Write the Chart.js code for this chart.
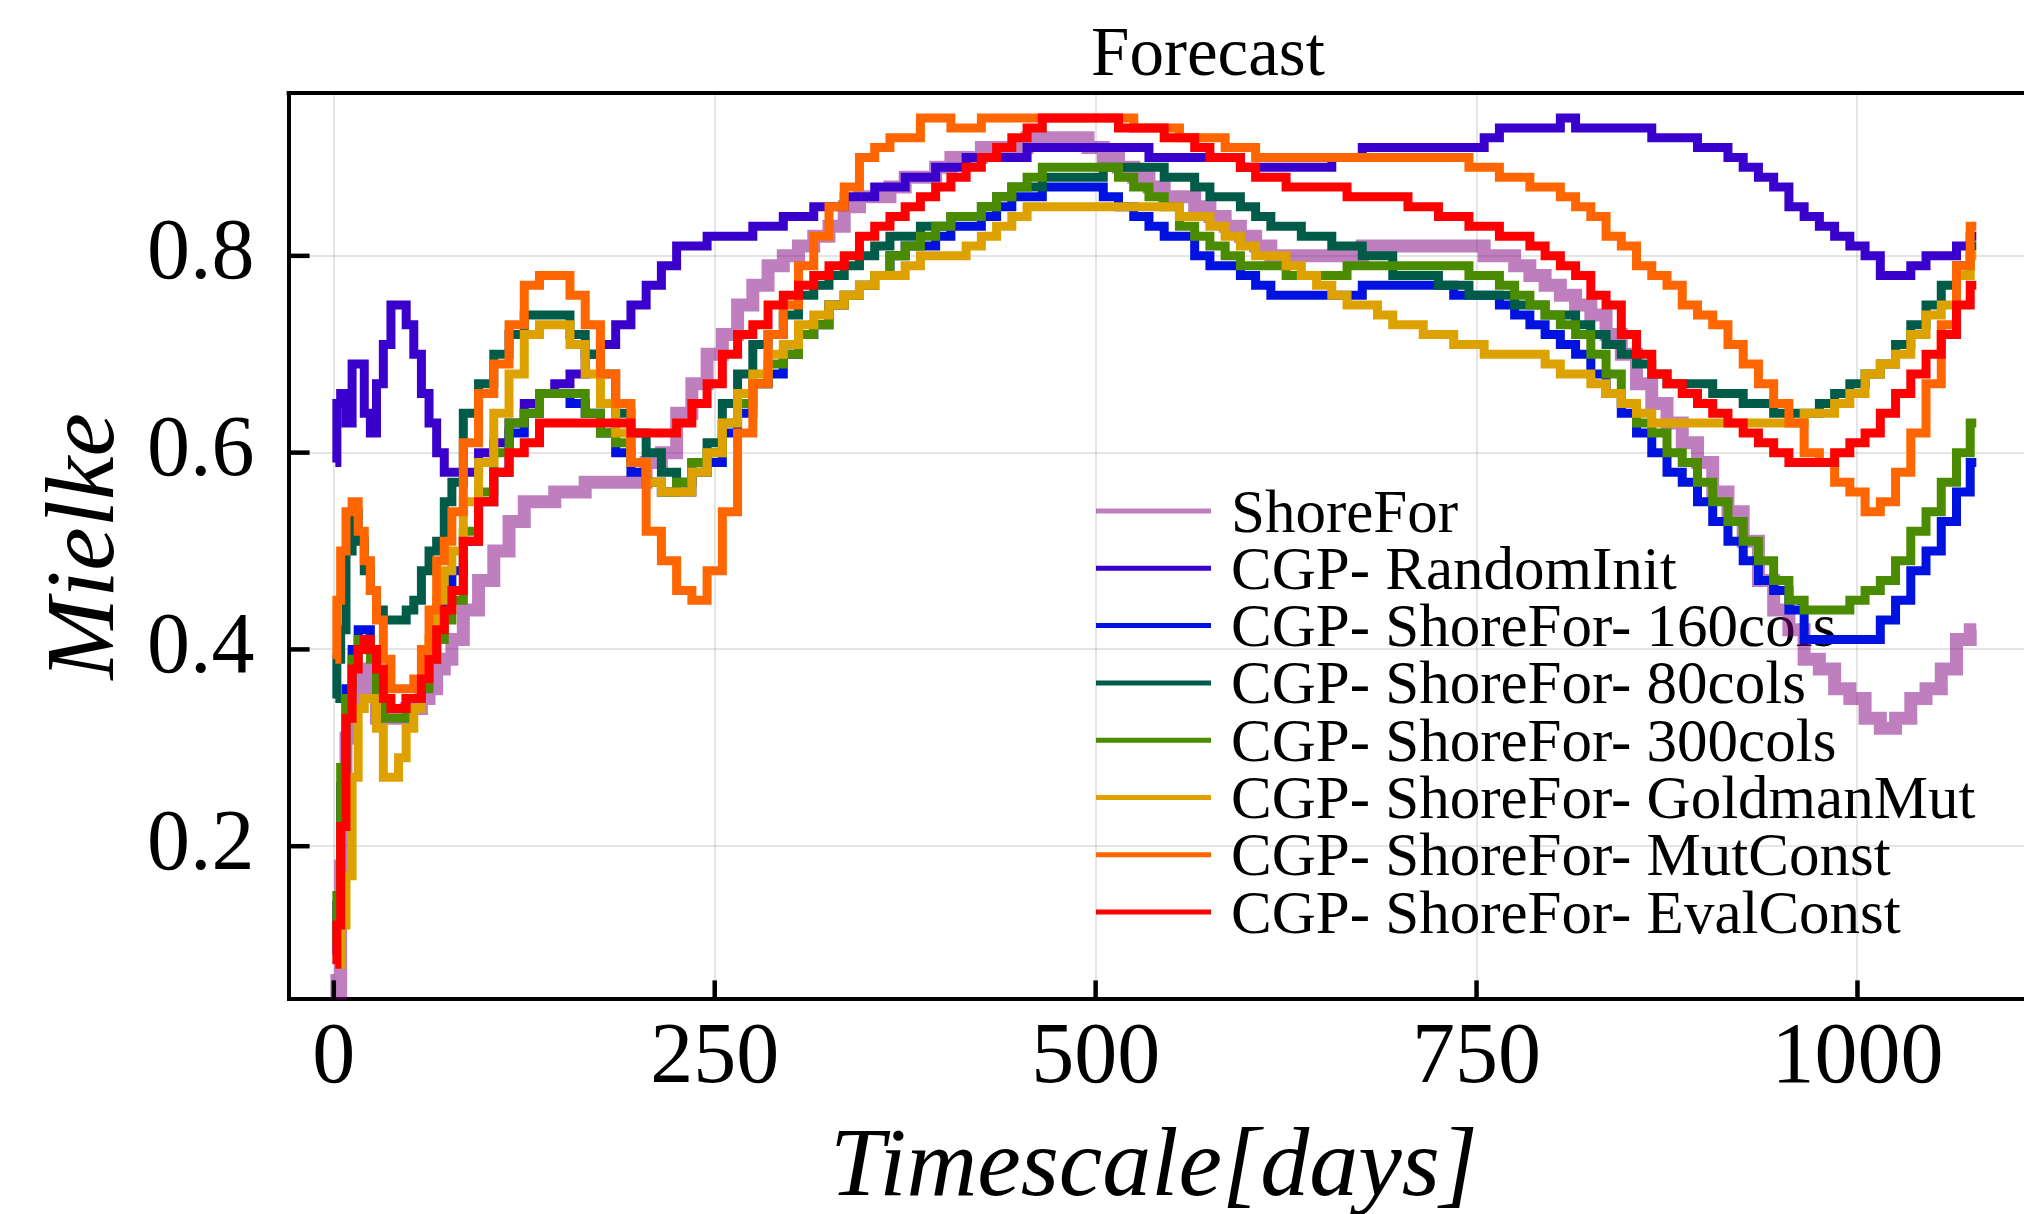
<!DOCTYPE html>
<html>
<head>
<meta charset="utf-8">
<script src="https://cdn.jsdelivr.net/npm/chart.js@4.4.1/dist/chart.umd.min.js"></script>
<style>
  html, body { margin: 0; padding: 0; background: #ffffff; overflow: hidden; }
  canvas { display: block; }
</style>
</head>
<body>
<canvas id="chart" width="2024" height="1214" style="width:2024px;height:1214px"></canvas>
<script>
// Forecast skill (Mielke index) against forecast horizon in days.
const days = [
  1, 3, 6, 10, 14, 18, 22, 26, 30, 35, 40, 45, 50, 55, 60, 65, 70, 75,
  80, 90, 100, 110, 120, 130, 140, 150, 160, 170,
  180, 190, 200, 210, 220, 230, 240, 250, 260, 270,
  280, 290, 300, 310, 320, 330, 340, 350, 360, 370,
  380, 390, 400, 410, 420, 430, 440, 450, 460, 470,
  480, 490, 500, 510, 520, 530, 540, 550, 560, 570,
  580, 590, 600, 610, 620, 630, 640, 650, 660, 670,
  680, 690, 700, 710, 720, 730, 740, 750, 760, 770,
  780, 790, 800, 810, 820, 830, 840, 850, 860, 870,
  880, 890, 900, 910, 920, 930, 940, 950, 960, 970,
  980, 990, 1000, 1010, 1020, 1030, 1040, 1050, 1060, 1070,
  1078
];

const shoreFor = [
  0.07, 0.05, 0.18, 0.31, 0.35, 0.37, 0.38, 0.36, 0.33, 0.33, 0.33, 0.33, 0.34, 0.34, 0.35, 0.36, 0.38, 0.39,
  0.41, 0.44, 0.47, 0.50, 0.53, 0.55, 0.55, 0.56, 0.56, 0.57,
  0.57, 0.57, 0.57, 0.59, 0.60, 0.64, 0.67, 0.70, 0.72, 0.75,
  0.77, 0.79, 0.80, 0.81, 0.82, 0.83, 0.85, 0.86, 0.86, 0.87,
  0.88, 0.88, 0.89, 0.90, 0.90, 0.91, 0.91, 0.91, 0.92, 0.92,
  0.92, 0.92, 0.91, 0.90, 0.89, 0.88, 0.87, 0.86, 0.86, 0.85,
  0.84, 0.83, 0.82, 0.81, 0.80, 0.80, 0.80, 0.80, 0.80, 0.80,
  0.81, 0.81, 0.81, 0.81, 0.81, 0.81, 0.81, 0.81, 0.80, 0.80,
  0.79, 0.78, 0.77, 0.76, 0.75, 0.74, 0.72, 0.70, 0.67, 0.65,
  0.63, 0.61, 0.59, 0.56, 0.54, 0.51, 0.47, 0.44, 0.42, 0.39,
  0.38, 0.36, 0.35, 0.33, 0.32, 0.33, 0.35, 0.36, 0.38, 0.41,
  0.42
];

const randomInit = [
  0.59, 0.65, 0.66, 0.63, 0.69, 0.69, 0.64, 0.62, 0.67, 0.71, 0.75, 0.75, 0.73, 0.70, 0.66, 0.63, 0.60, 0.58,
  0.58, 0.58, 0.60, 0.61, 0.63, 0.65, 0.66, 0.67, 0.68, 0.70,
  0.71, 0.73, 0.75, 0.77, 0.79, 0.81, 0.81, 0.82, 0.82, 0.82,
  0.83, 0.83, 0.84, 0.84, 0.85, 0.85, 0.86, 0.86, 0.87, 0.87,
  0.88, 0.88, 0.89, 0.89, 0.90, 0.90, 0.90, 0.90, 0.91, 0.91,
  0.91, 0.91, 0.91, 0.91, 0.91, 0.91, 0.90, 0.90, 0.90, 0.90,
  0.90, 0.90, 0.89, 0.89, 0.89, 0.89, 0.89, 0.89, 0.90, 0.90,
  0.91, 0.91, 0.91, 0.91, 0.91, 0.91, 0.91, 0.91, 0.92, 0.93,
  0.93, 0.93, 0.93, 0.94, 0.93, 0.93, 0.93, 0.93, 0.93, 0.92,
  0.92, 0.92, 0.91, 0.91, 0.90, 0.89, 0.88, 0.87, 0.85, 0.84,
  0.83, 0.82, 0.81, 0.80, 0.78, 0.78, 0.79, 0.80, 0.80, 0.81,
  0.82
];

const cols160 = [
  0.09, 0.14, 0.26, 0.36, 0.40, 0.42, 0.42, 0.40, 0.37, 0.34, 0.34, 0.34, 0.35, 0.35, 0.37, 0.40, 0.43, 0.46,
  0.48, 0.51, 0.55, 0.58, 0.62, 0.64, 0.66, 0.66, 0.65, 0.64,
  0.62, 0.60, 0.58, 0.57, 0.56, 0.56, 0.58, 0.59, 0.62, 0.64,
  0.67, 0.68, 0.70, 0.72, 0.73, 0.75, 0.76, 0.77, 0.78, 0.80,
  0.81, 0.81, 0.82, 0.83, 0.83, 0.84, 0.85, 0.86, 0.86, 0.87,
  0.87, 0.87, 0.87, 0.86, 0.85, 0.84, 0.83, 0.82, 0.82, 0.80,
  0.79, 0.79, 0.78, 0.77, 0.76, 0.76, 0.76, 0.76, 0.76, 0.76,
  0.77, 0.77, 0.77, 0.77, 0.77, 0.77, 0.76, 0.76, 0.76, 0.75,
  0.74, 0.73, 0.72, 0.71, 0.70, 0.68, 0.66, 0.64, 0.62, 0.60,
  0.58, 0.57, 0.55, 0.53, 0.51, 0.49, 0.47, 0.46, 0.44, 0.41,
  0.41, 0.41, 0.41, 0.41, 0.43, 0.45, 0.48, 0.50, 0.53, 0.56,
  0.59
];

const cols80 = [
  0.35, 0.39, 0.42, 0.50, 0.54, 0.51, 0.48, 0.46, 0.44, 0.43, 0.43, 0.43, 0.44, 0.45, 0.48, 0.50, 0.51, 0.55,
  0.57, 0.64, 0.67, 0.70, 0.72, 0.74, 0.74, 0.74, 0.72, 0.70,
  0.68, 0.64, 0.62, 0.60, 0.58, 0.57, 0.59, 0.61, 0.65, 0.68,
  0.71, 0.72, 0.74, 0.76, 0.77, 0.78, 0.79, 0.80, 0.81, 0.82,
  0.82, 0.83, 0.83, 0.84, 0.84, 0.85, 0.86, 0.87, 0.87, 0.88,
  0.88, 0.88, 0.88, 0.89, 0.89, 0.89, 0.89, 0.88, 0.88, 0.87,
  0.86, 0.86, 0.85, 0.84, 0.83, 0.83, 0.82, 0.82, 0.81, 0.81,
  0.80, 0.80, 0.78, 0.78, 0.78, 0.77, 0.77, 0.76, 0.76, 0.76,
  0.75, 0.75, 0.74, 0.74, 0.73, 0.72, 0.71, 0.70, 0.69, 0.68,
  0.67, 0.67, 0.67, 0.66, 0.66, 0.65, 0.65, 0.64, 0.64, 0.64,
  0.65, 0.66, 0.67, 0.68, 0.69, 0.71, 0.73, 0.75, 0.77, 0.79,
  0.81
];

const cols300 = [
  0.10, 0.15, 0.28, 0.35, 0.39, 0.41, 0.41, 0.39, 0.35, 0.33, 0.33, 0.33, 0.34, 0.34, 0.36, 0.39, 0.41, 0.43,
  0.45, 0.52, 0.56, 0.60, 0.63, 0.64, 0.66, 0.66, 0.66, 0.64,
  0.62, 0.61, 0.59, 0.57, 0.56, 0.57, 0.59, 0.60, 0.63, 0.65,
  0.67, 0.69, 0.70, 0.72, 0.73, 0.75, 0.76, 0.77, 0.78, 0.80,
  0.81, 0.82, 0.83, 0.84, 0.84, 0.85, 0.86, 0.87, 0.88, 0.89,
  0.89, 0.89, 0.89, 0.89, 0.88, 0.87, 0.86, 0.85, 0.83, 0.82,
  0.81, 0.80, 0.79, 0.79, 0.79, 0.78, 0.78, 0.78, 0.78, 0.79,
  0.79, 0.79, 0.79, 0.79, 0.79, 0.79, 0.79, 0.78, 0.78, 0.77,
  0.76, 0.75, 0.74, 0.73, 0.72, 0.70, 0.68, 0.65, 0.63, 0.62,
  0.60, 0.59, 0.57, 0.55, 0.53, 0.51, 0.49, 0.47, 0.45, 0.44,
  0.44, 0.44, 0.45, 0.46, 0.47, 0.49, 0.52, 0.54, 0.57, 0.60,
  0.63
];

const goldmanMut = [
  0.08, 0.08, 0.12, 0.17, 0.27, 0.34, 0.35, 0.35, 0.32, 0.27, 0.27, 0.29, 0.32, 0.34, 0.37, 0.41, 0.45, 0.48,
  0.50, 0.55, 0.59, 0.64, 0.68, 0.72, 0.73, 0.73, 0.71, 0.68,
  0.65, 0.62, 0.59, 0.57, 0.56, 0.56, 0.58, 0.60, 0.63, 0.66,
  0.68, 0.70, 0.71, 0.73, 0.74, 0.75, 0.76, 0.77, 0.78, 0.78,
  0.79, 0.80, 0.80, 0.80, 0.81, 0.82, 0.83, 0.84, 0.85, 0.85,
  0.85, 0.85, 0.85, 0.85, 0.85, 0.85, 0.85, 0.85, 0.84, 0.84,
  0.83, 0.82, 0.81, 0.80, 0.80, 0.79, 0.78, 0.77, 0.76, 0.75,
  0.75, 0.74, 0.73, 0.73, 0.72, 0.72, 0.71, 0.71, 0.70, 0.70,
  0.70, 0.70, 0.69, 0.68, 0.68, 0.67, 0.66, 0.65, 0.64, 0.63,
  0.63, 0.63, 0.63, 0.63, 0.63, 0.63, 0.63, 0.63, 0.63, 0.64,
  0.64, 0.65, 0.66, 0.68, 0.69, 0.70, 0.72, 0.74, 0.75, 0.78,
  0.80
];

const mutConst = [
  0.39, 0.45, 0.50, 0.54, 0.55, 0.52, 0.49, 0.46, 0.43, 0.39, 0.36, 0.36, 0.36, 0.37, 0.40, 0.44, 0.49, 0.51,
  0.54, 0.61, 0.66, 0.69, 0.73, 0.77, 0.78, 0.78, 0.76, 0.73,
  0.68, 0.65, 0.59, 0.52, 0.49, 0.46, 0.45, 0.48, 0.54, 0.62,
  0.67, 0.72, 0.75, 0.79, 0.82, 0.85, 0.87, 0.90, 0.91, 0.92,
  0.92, 0.94, 0.94, 0.93, 0.93, 0.94, 0.94, 0.94, 0.94, 0.94,
  0.94, 0.94, 0.94, 0.94, 0.94, 0.93, 0.93, 0.93, 0.92, 0.92,
  0.92, 0.91, 0.91, 0.90, 0.90, 0.90, 0.90, 0.90, 0.90, 0.90,
  0.90, 0.90, 0.90, 0.90, 0.90, 0.90, 0.90, 0.89, 0.89, 0.88,
  0.88, 0.87, 0.87, 0.86, 0.85, 0.84, 0.82, 0.81, 0.79, 0.78,
  0.77, 0.75, 0.74, 0.73, 0.71, 0.69, 0.67, 0.65, 0.63, 0.60,
  0.59, 0.57, 0.56, 0.54, 0.55, 0.58, 0.62, 0.67, 0.73, 0.79,
  0.83
];

const evalConst = [
  0.08, 0.12, 0.22, 0.33, 0.38, 0.40, 0.41, 0.40, 0.38, 0.35, 0.34, 0.34, 0.35, 0.35, 0.37, 0.39, 0.42, 0.44,
  0.46, 0.51, 0.55, 0.58, 0.60, 0.61, 0.63, 0.63, 0.63, 0.63,
  0.63, 0.63, 0.62, 0.62, 0.62, 0.63, 0.65, 0.67, 0.70, 0.72,
  0.73, 0.75, 0.76, 0.77, 0.78, 0.79, 0.80, 0.82, 0.83, 0.84,
  0.85, 0.86, 0.87, 0.88, 0.89, 0.90, 0.91, 0.92, 0.93, 0.94,
  0.94, 0.94, 0.94, 0.94, 0.93, 0.93, 0.93, 0.92, 0.92, 0.91,
  0.90, 0.90, 0.89, 0.88, 0.88, 0.87, 0.87, 0.87, 0.87, 0.86,
  0.86, 0.86, 0.86, 0.85, 0.85, 0.84, 0.84, 0.83, 0.83, 0.82,
  0.82, 0.81, 0.80, 0.79, 0.78, 0.76, 0.75, 0.72, 0.70, 0.68,
  0.67, 0.66, 0.65, 0.64, 0.63, 0.62, 0.61, 0.60, 0.59, 0.59,
  0.59, 0.60, 0.61, 0.62, 0.64, 0.66, 0.68, 0.70, 0.72, 0.75,
  0.77
];

const seriesNames = [
  'ShoreFor',
  'CGP- RandomInit',
  'CGP- ShoreFor- 160cols',
  'CGP- ShoreFor- 80cols',
  'CGP- ShoreFor- 300cols',
  'CGP- ShoreFor- GoldmanMut',
  'CGP- ShoreFor- MutConst',
  'CGP- ShoreFor- EvalConst'
];
const seriesValues = [shoreFor, randomInit, cols160, cols80, cols300, goldmanMut, mutConst, evalConst];

const xTickValues = [0, 250, 500, 750, 1000];
const yTickValues = [0.2, 0.4, 0.6, 0.8];

// Line styling, one entry per series.
const lineStyles = [
  { color: 'rgba(128, 0, 128, 0.5)', width: 13 },
  { color: '#3a00cc', width: 9 },
  { color: '#0012e0', width: 9 },
  { color: '#005c48', width: 9 },
  { color: '#4b8b00', width: 9 },
  { color: '#dda200', width: 9 },
  { color: '#ff6600', width: 9 },
  { color: '#ff0000', width: 9 }
];

const SERIF = "'Liberation Serif', 'DejaVu Serif', serif";

const datasets = seriesValues.map((vals, i) => ({
  label: seriesNames[i],
  data: days.map((d, k) => ({ x: d, y: vals[k] })),
  borderColor: lineStyles[i].color,
  borderWidth: lineStyles[i].width,
  backgroundColor: lineStyles[i].color,
  pointRadius: 0,
  fill: false,
  stepped: 'middle',
  // later series are painted over earlier ones
  order: seriesValues.length - 1 - i
}));

// Title, axis titles, frame, inward ticks and the legend block.
const decorations = {
  id: 'decorations',
  beforeDatasetsDraw(chart) {
    const ctx = chart.ctx;
    ctx.save();
    ctx.font = `61px ${SERIF}`;
    ctx.textAlign = 'left';
    ctx.textBaseline = 'alphabetic';
    seriesNames.forEach((name, i) => {
      const y = 511 + i * 57.3;
      ctx.strokeStyle = lineStyles[i].color;
      ctx.lineWidth = 5;
      ctx.beginPath();
      ctx.moveTo(1096, y);
      ctx.lineTo(1211, y);
      ctx.stroke();
      ctx.fillStyle = '#000';
      ctx.fillText(name, 1231, y + 20.5);
    });
    ctx.restore();
  },
  afterDraw(chart) {
    const ctx = chart.ctx;
    const a = chart.chartArea;
    const xs = chart.scales.x;
    const ys = chart.scales.y;
    ctx.save();
    ctx.strokeStyle = '#000';
    ctx.lineWidth = 4;
    ctx.beginPath();
    ctx.moveTo(a.left - 2, a.top);
    ctx.lineTo(a.right, a.top);
    ctx.stroke();
    ctx.lineWidth = 4.5;
    yTickValues.forEach(v => {
      const py = ys.getPixelForValue(v);
      ctx.beginPath();
      ctx.moveTo(a.left, py);
      ctx.lineTo(a.left + 21, py);
      ctx.stroke();
    });
    xTickValues.forEach(v => {
      const px = xs.getPixelForValue(v);
      ctx.beginPath();
      ctx.moveTo(px, a.bottom);
      ctx.lineTo(px, a.bottom - 19);
      ctx.stroke();
    });

    ctx.fillStyle = '#000';
    ctx.textBaseline = 'alphabetic';
    ctx.textAlign = 'center';
    ctx.font = `69px ${SERIF}`;
    ctx.fillText('Forecast', 1208, 75);

    ctx.font = `italic 98px ${SERIF}`;
    ctx.fillText('Timescale[days]', 1154, 1195);

    ctx.translate(113, (a.top + a.bottom) / 2);
    ctx.rotate(-Math.PI / 2);
    ctx.fillText('Mielke', 0, 0);
    ctx.restore();
  }
};

new Chart(document.getElementById('chart'), {
  type: 'line',
  data: { datasets },
  options: {
    responsive: false,
    animation: false,
    devicePixelRatio: 1,
    layout: { padding: { top: 93, left: 0, right: 0, bottom: 0 } },
    plugins: {
      legend: { display: false },
      title: { display: false },
      tooltip: { enabled: false }
    },
    elements: { line: { tension: 0, borderCapStyle: 'butt', borderJoinStyle: 'miter' } },
    scales: {
      x: {
        type: 'linear',
        min: -29.67,
        max: 1109.3,
        afterBuildTicks: s => { s.ticks = xTickValues.map(v => ({ value: v })); },
        afterFit: s => { s.height = 214.6; },
        grid: { color: 'rgba(0,0,0,0.1)', lineWidth: 2, drawTicks: false },
        border: { display: true, color: '#000', width: 4 },
        ticks: {
          color: '#000',
          font: { family: SERIF, size: 86, lineHeight: 1 },
          padding: 17,
          maxRotation: 0,
          autoSkip: false,
          callback: v => String(v)
        }
      },
      y: {
        type: 'linear',
        min: 0.0443,
        max: 0.9655,
        afterBuildTicks: s => { s.ticks = yTickValues.map(v => ({ value: v })); },
        afterFit: s => { s.width = 288.6; },
        grid: { color: 'rgba(0,0,0,0.1)', lineWidth: 2, drawTicks: false },
        border: { display: true, color: '#000', width: 4 },
        ticks: {
          color: '#000',
          font: { family: SERIF, size: 86, lineHeight: 1 },
          padding: 34,
          autoSkip: false,
          callback: v => v.toFixed(1)
        }
      }
    }
  },
  plugins: [decorations]
});
</script>
</body>
</html>
